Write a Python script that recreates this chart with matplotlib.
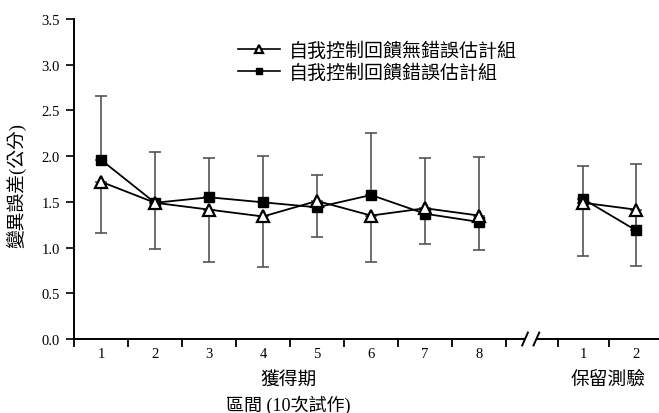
import matplotlib
matplotlib.use("Agg")
import matplotlib.pyplot as plt
from matplotlib.lines import Line2D

plt.rcParams['font.family'] = ['Liberation Serif', 'Noto Sans CJK TC']

# ---- data ----
acq_labels = ["1", "2", "3", "4", "5", "6", "7", "8"]
ret_labels = ["1", "2"]
tick_labels = acq_labels + ret_labels
# positions of blocks on the x axis (acquisition 1-8, then retention after the break)
xpos = [1, 2, 3, 4, 5, 6, 7, 8, 9.93, 10.9]

no_error_est = [1.72, 1.49, 1.415, 1.34, 1.51, 1.35, 1.43, 1.35, 1.49, 1.415]   # triangles
error_est = [1.96, 1.49, 1.55, 1.495, 1.44, 1.575, 1.37, 1.28, 1.53, 1.19]      # squares
err_top = [2.655, 2.05, 1.98, 2.005, 1.79, 2.25, 1.98, 1.99, 1.89, 1.915]
err_bottom = [1.16, 0.98, 0.84, 0.79, 1.12, 0.845, 1.04, 0.97, 0.905, 0.80]

label_tri = "自我控制回饋無錯誤估計組"
label_sq = "自我控制回饋錯誤估計組"

W, H = 659, 414
fig = plt.figure(figsize=(W / 100, H / 100), dpi=100)
ax = fig.add_axes([74 / W, 1 - 340 / H, (W - 74) / W, (340 - 20) / H])

# error bars: upper part from square series, lower part from triangle series
up = [t - s for t, s in zip(err_top, error_est)]
lo = [t - b for t, b in zip(no_error_est, err_bottom)]
ax.errorbar(xpos, error_est, yerr=[[0] * len(up), up], fmt='none',
            ecolor='#555555', elinewidth=1.2, capsize=4, capthick=1.2, zorder=1)
ax.errorbar(xpos, no_error_est, yerr=[lo, [0] * len(lo)], fmt='none',
            ecolor='#555555', elinewidth=1.2, capsize=4, capthick=1.2, zorder=1)

acq = slice(0, 8)
ret = slice(8, 10)
for sl in (acq, ret):
    ax.plot(xpos[sl], error_est[sl], color='black', lw=1.3, marker='s',
            markersize=7, markerfacecolor='black', markeredgecolor='black', zorder=3)
    ax.plot(xpos[sl], no_error_est[sl], color='black', lw=1.3, marker='^',
            markersize=8.5, markerfacecolor='white', markeredgecolor='black',
            markeredgewidth=1.6, zorder=4)

ax.set_xlim(0.5, 11.33)
ax.set_ylim(0, 3.5)
ax.set_yticks([0, 0.5, 1.0, 1.5, 2.0, 2.5, 3.0, 3.5])
ax.set_yticklabels(["0.0", "0.5", "1.0", "1.5", "2.0", "2.5", "3.0", "3.5"], fontsize=10.5)
ax.set_xticks(xpos)
ax.set_xticklabels(tick_labels, fontsize=10.5)
ax.tick_params(axis='x', which='major', length=0, pad=6)
ax.set_xticks([0.5, 1.5, 2.5, 3.5, 4.5, 5.5, 6.5, 7.5, 8.5, 9.46, 10.41], minor=True)
ax.tick_params(axis='x', which='minor', length=6, width=1.3, direction='out')
ax.tick_params(axis='y', which='major', length=6, width=1.2, direction='out', pad=4)

for s in ('top', 'right', 'bottom'):
    ax.spines[s].set_visible(False)
ax.spines['left'].set_linewidth(1.4)

# bottom axis with break
kw = dict(color='black', lw=1.4, clip_on=False, zorder=5, solid_capstyle='butt')
ax.add_line(Line2D([0.5, 8.85], [0, 0], **kw))
ax.add_line(Line2D([9.06, 11.33], [0, 0], **kw))
for cx in (8.85, 9.06):
    ax.add_line(Line2D([cx - 0.06, cx + 0.06], [-0.08, 0.08], **kw))

# texts
fig.text(289 / W, 1 - 380 / H, "獲得期", ha='center', va='center', fontsize=13.5)
fig.text(608 / W, 1 - 380 / H, "保留測驗", ha='center', va='center', fontsize=13.5)
fig.text(288 / W, 1 - 405 / H, "區間 (10次試作)", ha='center', va='center', fontsize=13)
fig.text(16 / W, 1 - 186 / H, "變異誤差(公分)", ha='center', va='center',
         rotation=90, fontsize=13.5)

h1 = Line2D([], [], color='black', lw=1.2, marker='^', markersize=8.5,
            markerfacecolor='white', markeredgecolor='black', markeredgewidth=1.6)
h2 = Line2D([], [], color='black', lw=1.2, marker='s', markersize=7,
            markerfacecolor='black')
fig.legend([h1, h2], [label_tri, label_sq], loc='upper left',
           bbox_to_anchor=(238 / W, 1 - 42 / H), frameon=False, fontsize=13.7,
           handlelength=2.2, handletextpad=0.45, borderpad=0, borderaxespad=0,
           labelspacing=0.2, markerscale=0.7)

fig.savefig("out.png", dpi=100)
